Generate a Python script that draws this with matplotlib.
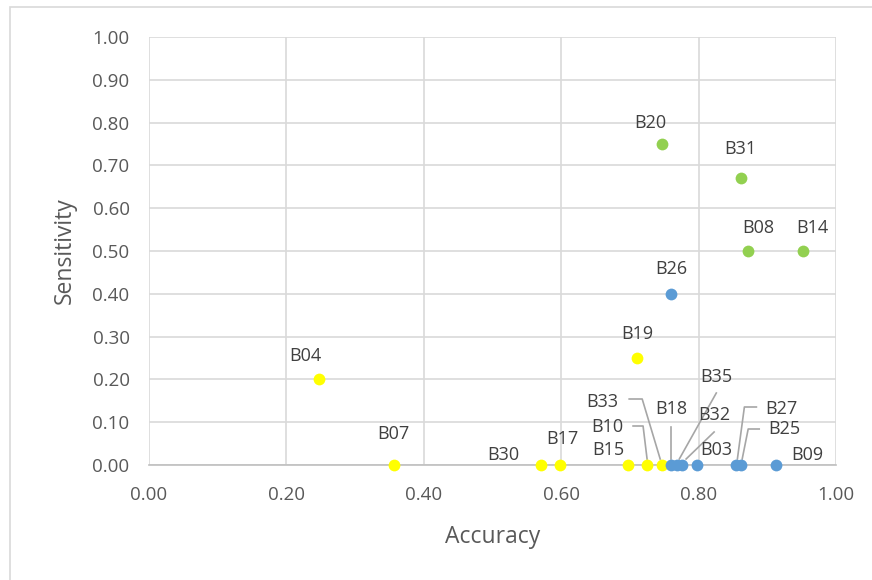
import matplotlib.pyplot as plt
from matplotlib.patches import Rectangle

# data
yellow_names = ["B04", "B07", "B30", "B17", "B15", "B10", "B33", "B19"]
yellow_acc = [0.248, 0.356, 0.570, 0.598, 0.697, 0.725, 0.747, 0.711]
yellow_sens = [0.20, 0.00, 0.00, 0.00, 0.00, 0.00, 0.00, 0.25]

blue_names = ["B26", "B18", "B35", "B32", "B03", "B27", "B25", "B09"]
blue_acc = [0.760, 0.760, 0.769, 0.776, 0.797, 0.855, 0.862, 0.913]
blue_sens = [0.40, 0.00, 0.00, 0.00, 0.00, 0.00, 0.00, 0.00]

green_names = ["B20", "B31", "B08", "B14"]
green_acc = [0.747, 0.861, 0.872, 0.952]
green_sens = [0.75, 0.67, 0.50, 0.50]

ticks = [0.0, 0.1, 0.2, 0.3, 0.4, 0.5, 0.6, 0.7, 0.8, 0.9, 1.0]

# label offsets in pixels (dx right, dy up) from each point
label_off = {
    "B04": (-14, 23), "B07": (0, 31), "B30": (-37, 10), "B17": (3, 26),
    "B15": (-20, 15), "B10": (-40, 38), "B33": (-60, 63), "B19": (0, 24),
    "B26": (0, 25), "B18": (0, 56), "B35": (39, 88), "B32": (32, 50),
    "B03": (20, 15), "B27": (45, 56), "B25": (43, 36), "B09": (31, 10),
    "B20": (-12, 21), "B31": (0, 29), "B08": (10, 23), "B14": (9, 23),
}
# leader line vertices in pixels relative to the point
leaders = {
    "B10": [(-14, 39), (-4, 39), (0, 6)],
    "B33": [(-33, 66), (-20, 66), (-2, 6)],
    "B18": [(0, 38), (0, 6)],
    "B35": [(39, 72), (2, 6)],
    "B32": [(32, 33), (4, 6)],
    "B27": [(20, 58), (8, 58), (1, 6)],
    "B25": [(18, 36), (7, 36), (1, 6)],
}

plt.rcParams["font.family"] = ["Open Sans", "DejaVu Sans"]

W, H = 872, 580
fig = plt.figure(figsize=(W / 100, H / 100), dpi=100)
ax_l, ax_r, ax_t, ax_b = 149, 836, 37, 465
ax = fig.add_axes([ax_l / W, 1 - ax_b / H, (ax_r - ax_l) / W, (ax_b - ax_t) / H])
px_x = 1.0 / (ax_r - ax_l)
px_y = 1.0 / (ax_b - ax_t)

# chart border
fig.add_artist(Rectangle((10 / W, -0.01), (W + 10) / W, 1 - 7 / H + 0.01,
                         transform=fig.transFigure, fill=False,
                         edgecolor="#D9D9D9", lw=1.2))

ax.set_xlim(0, 1)
ax.set_ylim(0, 1)
ax.set_xticks(ticks[::2])
ax.set_yticks(ticks)
ax.set_xticklabels([f"{t:.2f}" for t in ticks[::2]])
ax.set_yticklabels([f"{t:.2f}" for t in ticks])
ax.grid(True, color="#D9D9D9", lw=1.2)
ax.set_axisbelow(True)
for s in ["top", "right", "left"]:
    ax.spines[s].set_visible(False)
ax.spines["bottom"].set_color("#BFBFBF")
ax.spines["bottom"].set_linewidth(1.2)
ax.tick_params(length=0, labelsize=13.5, labelcolor="#595959")
ax.tick_params(axis="x", pad=15)
ax.tick_params(axis="y", pad=14)

ax.set_xlabel("Accuracy", fontsize=16.5, color="#595959", labelpad=15)
ax.set_ylabel("Sensitivity", fontsize=16.5, color="#595959", labelpad=11)

for names, xs, ys, col in [
    (yellow_names, yellow_acc, yellow_sens, "#FFFF00"),
    (blue_names, blue_acc, blue_sens, "#5B9BD5"),
    (green_names, green_acc, green_sens, "#92D050"),
]:
    ax.scatter(xs, ys, s=72, color=col, zorder=3, clip_on=False, linewidths=0)
    for n, x, y in zip(names, xs, ys):
        dx, dy = label_off[n]
        ax.annotate(n, (x, y), xytext=(dx, dy), textcoords="offset pixels",
                    ha="center", va="center", fontsize=13, color="#404040",
                    annotation_clip=False)
        if n in leaders:
            lx = [x + vx * px_x for vx, vy in leaders[n]]
            ly = [y + vy * px_y for vx, vy in leaders[n]]
            ax.plot(lx, ly, color="#A6A6A6", lw=1.2, zorder=2, clip_on=False)

fig.savefig("out.png", dpi=100)
